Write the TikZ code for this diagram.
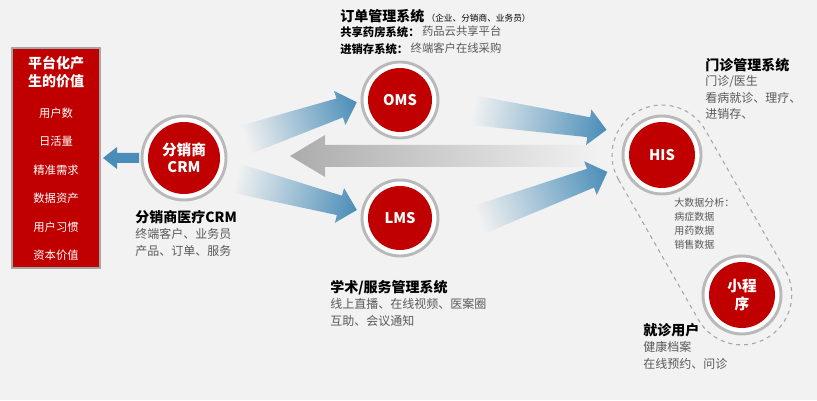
\documentclass[tikz,border=0pt]{standalone}
\usepackage{fontspec}
\setmainfont{Noto Sans CJK SC}
\begin{document}
\definecolor{bg}{HTML}{F2F2F2}
\definecolor{cred}{HTML}{C00000}
\definecolor{ablue}{HTML}{4A8DB8}
\definecolor{tgray}{HTML}{595959}
\tikzset{
  ring/.style={circle,draw=gray!55,line width=2.2pt,fill=white,minimum size=#1*0.75pt,inner sep=0},
  core/.style={circle,fill=cred,text=white,font=\bfseries\fontsize{11}{13}\selectfont,minimum size=#1*0.75pt,inner sep=0,align=center},
  head/.style={anchor=north west,font=\bfseries\fontsize{10.5}{12}\selectfont,inner sep=0},
  body/.style={anchor=north west,font=\fontsize{9}{12.5}\selectfont,text=tgray,inner sep=0,align=left},
  item/.style={text=white,font=\fontsize{8.5}{10}\selectfont},
  sub/.style={anchor=north west,inner sep=0,font=\fontsize{8.5}{13}\selectfont},
}
\newcommand{\garrow}[4]{% start, angle, length, colour
\begin{scope}[transform canvas={shift={#1},rotate=#2}]
\shade[left color=bg,right color=#4] (0,-15) -- (#3-18,-10) -- (#3-18,-18) -- (#3,0) -- (#3-18,18) -- (#3-18,10) -- (0,15) -- cycle;
\end{scope}}
\begin{tikzpicture}[x=0.75pt,y=0.75pt]
\fill[bg] (0,0) rectangle (817,400);
\useasboundingbox (0,0) rectangle (817,400);
% value box
\node[draw=gray!70,line width=1pt,fill=cred,minimum width=66pt,minimum height=165pt,inner sep=0] (box) at (56,242) {};
\node[text=white,font=\bfseries\fontsize{10.5}{13.5}\selectfont,align=center] (boxt) at (56,328) {平台化产\\生的价值};
\foreach \t [count=\i] in {用户数,日活量,精准需求,数据资产,用户习惯,资本价值}
  \node[item] (it\i) at (56,{287-28.5*(\i-1)}) {\t};
% gray arrow
\begin{scope}[transform canvas={shift={(290,244)}}]
\shade[left color=gray!65,right color=bg] (0,0) -- (35,21) -- (35,11) -- (310,11) -- (310,-11) -- (35,-11) -- (35,-21) -- cycle;
\end{scope}
% blue arrows
\garrow{(245,260)}{18.7}{118}{ablue}
\garrow{(235,222)}{-14.7}{126}{ablue}
\garrow{(472,290)}{-8.4}{136}{ablue}
\garrow{(478,180)}{20.4}{138}{ablue}
% capsule
\begin{scope}[transform canvas={shift={(662,245)},rotate=-60.3}]
\draw[gray!70,dashed,line width=0.8pt] (0,-50) -- (161,-50) arc(-90:90:50) -- (0,50) arc(90:270:50) -- cycle;
\end{scope}
% circles
\node[ring=84] (crmr) at (184,242) {};
\node[core=72] (crm) at (184,242) {分销商\\CRM};
\node[ring=76] (omsr) at (400,300) {};
\node[core=64] (oms) at (400,300) {OMS};
\node[ring=76] (lmsr) at (400,182) {};
\node[core=64] (lms) at (400,182) {LMS};
\node[ring=78] (hisr) at (662,245) {};
\node[core=66] (his) at (662,245) {HIS};
\node[ring=78] (xcxr) at (742,105) {};
\node[core=66] (xcx) at (742,105) {小程\\序};
% left blue arrow
\coordinate (la) at (103,242);
\fill[ablue] (la) -- ++(14,11) -- ++(0,-6) -- ++(22,0) -- ++(0,-10) -- ++(-22,0) -- ++(0,-6) -- cycle;
% texts
\node[head] (t1) at (340,391) {订单管理系统\,{\fontsize{6.5}{8}\selectfont\mdseries （企业、分销商、业务员）}};
\node[sub,font=\bfseries\fontsize{8.5}{13}\selectfont] (t1b) at (340,374) {共享药房系统：};
\node[sub,text=tgray] (t1c) at (t1b.north east) {\,药品云共享平台};
\node[sub,font=\bfseries\fontsize{8.5}{13}\selectfont] (t1d) at (340,357) {进销存系统：};
\node[sub,text=tgray] (t1e) at (t1d.north east) {\,终端客户在线采购};
\node[head] (t2) at (135,190) {分销商医疗CRM};
\node[body] (t2b) at (135,172) {终端客户、业务员\\产品、订单、服务};
\node[head] (t3) at (330,120) {学术/服务管理系统};
\node[body] (t3b) at (330,102) {线上直播、在线视频、医案圈\\互助、会议通知};
\node[head] (t4) at (705,342) {门诊管理系统};
\node[body] (t4b) at (705,325) {门诊/医生\\看病就诊、理疗、\\进销存、};
\node[body,font=\fontsize{7.5}{10.5}\selectfont] (t5) at (674,202) {大数据分析：\\病症数据\\用药数据\\销售数据};
\node[head] (t6) at (643,77) {就诊用户};
\node[body] (t6b) at (643,59) {健康档案\\在线预约、问诊};
\end{tikzpicture}
\end{document}
